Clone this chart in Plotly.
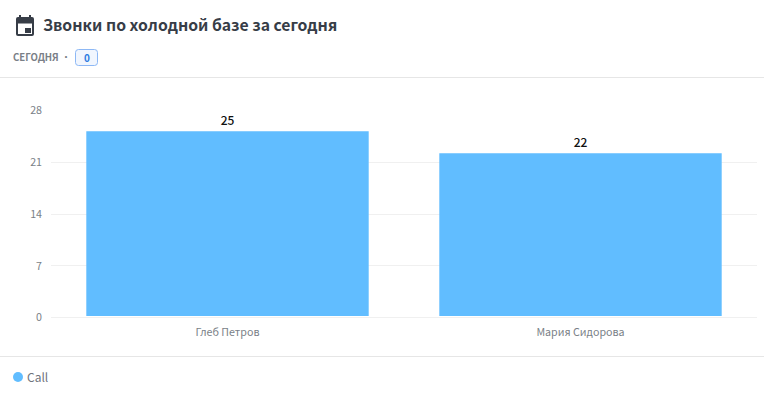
import plotly.graph_objects as go

names = ["Глеб Петров", "Мария Сидорова"]
calls = [25, 22]
series_name = "Call"
y_ticks = [0, 7, 14, 21, 28]
title = "Звонки по холодной базе за сегодня"
period = "СЕГОДНЯ"
badge = "0"

W, H = 764, 393
FONT = "Noto Sans CJK SC"
BLUE = "#61BDFF"

def fx(p):
    return p / W

def fy(p):
    return 1 - p / H

def rrect(x0, y0, x1, y1, r):
    a, b, c, d = fx(x0), fy(y0), fx(x1), fy(y1)
    rx, ry = r / W, r / H
    return (f"M{a+rx},{b} L{c-rx},{b} Q{c},{b} {c},{b-ry} L{c},{d+ry} Q{c},{d} {c-rx},{d} "
            f"L{a+rx},{d} Q{a},{d} {a},{d+ry} L{a},{b-ry} Q{a},{b} {a+rx},{b} Z")

fig = go.Figure()
fig.add_trace(go.Bar(x=names, y=calls, name=series_name, yaxis="y2", xaxis="x",
                     marker=dict(color=BLUE, line=dict(width=0)), width=0.8,
                     showlegend=False))
fig.add_trace(go.Scatter(x=names, y=calls, name=series_name, mode="markers+text",
                         marker=dict(size=5.5, opacity=0),
                         text=calls, textposition="top center", cliponaxis=False,
                         textfont=dict(family=FONT, size=12, color="#111111", weight=500),
                         showlegend=False, hoverinfo="skip"))

shapes = [
    dict(type="line", xref="paper", yref="paper", x0=0, x1=1, y0=fy(77.5), y1=fy(77.5),
         line=dict(color="#E6E6E6", width=1)),
    dict(type="line", xref="paper", yref="paper", x0=0, x1=1, y0=fy(356.5), y1=fy(356.5),
         line=dict(color="#E6E6E6", width=1)),
    dict(type="path", xref="paper", yref="paper", path=rrect(75.5, 49.5, 97.5, 65.5, 3),
         fillcolor="#F1F6FE", line=dict(color="#8DB8F5", width=1)),
    # calendar icon
    dict(type="path", xref="paper", yref="paper", path=rrect(16, 17, 34, 36, 2),
         fillcolor="#373D47", line=dict(width=0)),
    dict(type="rect", xref="paper", yref="paper", x0=fx(18), x1=fx(32), y0=fy(34), y1=fy(23.5),
         fillcolor="white", line=dict(width=0)),
    dict(type="rect", xref="paper", yref="paper", x0=fx(25), x1=fx(31), y0=fy(33), y1=fy(28),
         fillcolor="#373D47", line=dict(width=0)),
    dict(type="rect", xref="paper", yref="paper", x0=fx(19), x1=fx(21), y0=fy(18), y1=fy(15),
         fillcolor="#373D47", line=dict(width=0)),
    dict(type="rect", xref="paper", yref="paper", x0=fx(29), x1=fx(31), y0=fy(18), y1=fy(15),
         fillcolor="#373D47", line=dict(width=0)),
    dict(type="circle", xref="paper", yref="paper", x0=fx(13), x1=fx(23), y0=fy(382), y1=fy(372),
         fillcolor=BLUE, line=dict(width=0)),
]

def note(text, x, y, size, color, weight=400, anchor="left"):
    return dict(text=text, xref="paper", yref="paper", x=fx(x), y=fy(y), xanchor=anchor, yanchor="middle",
                showarrow=False, borderpad=0, borderwidth=0,
                font=dict(family=FONT, size=size, color=color, weight=weight))

annotations = [
    note(title, 43, 24.5, 15.75, "#373D47", 600),
    note(period, 13, 56.5, 9.6, "#7A7F87", 600),
    note("·", 66, 56.5, 10, "#7A7F87", 400, "center"),
    note(badge, 86.5, 57, 10, "#2F7DE1", 600, "center"),
    note(series_name, 27, 376, 12, "#6F747C"),
]

axis_font = dict(family=FONT, size=10.7, color="#7A7F87")
fig.update_layout(
    width=W, height=H, margin=dict(l=0, r=0, t=0, b=0),
    paper_bgcolor="white", plot_bgcolor="rgba(0,0,0,0)",
    font=dict(family=FONT),
    xaxis=dict(domain=[fx(51), fx(757)], type="category", showgrid=False, zeroline=False, showline=False,
               ticks="", tickfont=axis_font, ticklabelstandoff=7, anchor="y", automargin=False),
    yaxis=dict(domain=[fy(317.5), fy(110.5)], range=[0, 28], tickvals=y_ticks, showgrid=True,
               gridcolor="#F0F0F0", gridwidth=1, zeroline=True, zerolinecolor="#F0F0F0", zerolinewidth=1,
               ticks="", tickfont=axis_font, ticklabelstandoff=8, showline=False, anchor="x", automargin=False),
    yaxis2=dict(domain=[fy(316), fy(109)], range=[0, 28], visible=False, anchor="x", automargin=False),
    showlegend=False,
    shapes=shapes, annotations=annotations,
    bargap=0.2,
)
fig.write_html("out.html", config=dict(displayModeBar=False), post_script="document.body.style.margin='0';")
